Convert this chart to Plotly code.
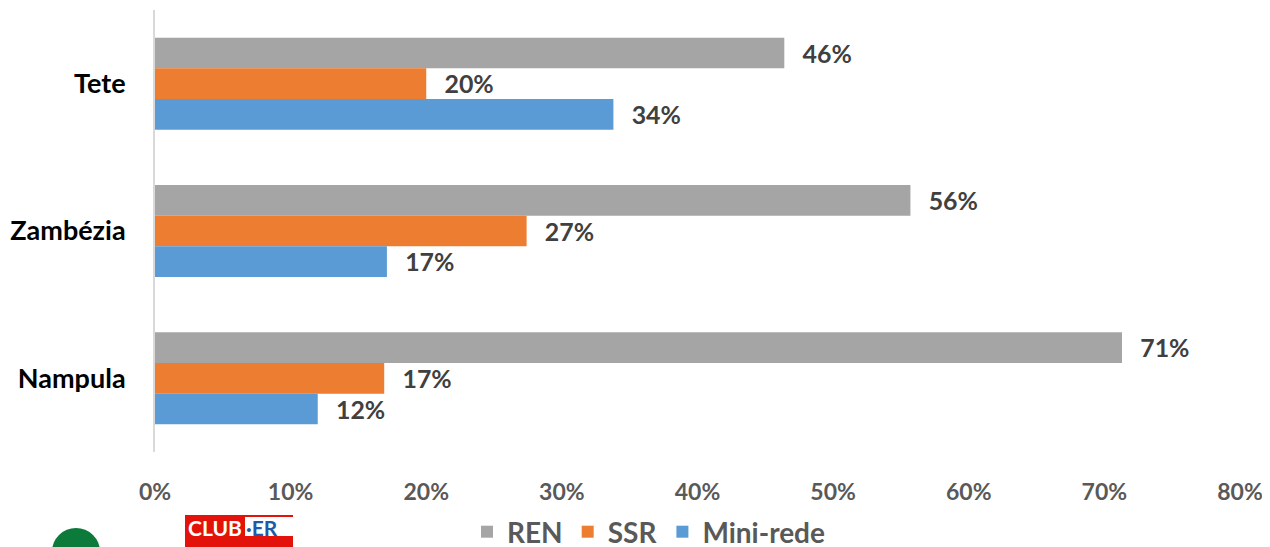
import plotly.graph_objects as go

categories = ["Tete", "Zambézia", "Nampula"]
series_names = ["REN", "SSR", "Mini-rede"]
ren = [46.4, 55.7, 71.3]
ssr = [20.0, 27.4, 16.9]
mini = [33.8, 17.1, 12.0]
colors = ["#A5A5A5", "#ED7D31", "#5B9BD5"]
x_ticks = [0, 10, 20, 30, 40, 50, 60, 70, 80]
x_tick_labels = [f"{t}%" for t in x_ticks]

FONT = "Lato, 'Open Sans', sans-serif"
PAD = "\u00a0\u00a0\u2009"

# page offset of the figure (default body margin) is 8px
PL, PB, PW, PH = 155, 452, 1085, 442  # plot area in page pixels


def px(x):
    return (x - PL) / PW


def py(y):
    return (PB - y) / PH


fig = go.Figure()
for name, vals, col in zip(series_names, [ren, ssr, mini], colors):
    fig.add_trace(go.Bar(
        y=categories, x=vals, name=name, orientation="h",
        marker=dict(color=col, line=dict(width=0)),
        text=[f"{PAD}{round(v):d}%" for v in vals],
        textposition="outside",
        textfont=dict(family=FONT, size=26, color="#404040", weight="bold"),
        cliponaxis=False,
    ))

fig.update_layout(
    width=1270, height=570,
    margin=dict(l=147, r=38, t=2, b=126),
    paper_bgcolor="white", plot_bgcolor="white",
    barmode="group", bargap=0.376, bargroupgap=0,
    font=dict(family=FONT),
    showlegend=True,
    legend=dict(
        orientation="h", x=px(649), xanchor="center", y=py(532), yanchor="middle",
        font=dict(family=FONT, size=28, color="#595959", weight="bold"),
        traceorder="normal",
    ),
    xaxis=dict(
        range=[0, 80], tickvals=x_ticks, ticktext=x_tick_labels,
        showgrid=False, zeroline=False, showline=False,
        ticks="", ticklabelstandoff=24,
        tickfont=dict(family=FONT, size=23, color="#595959", weight="bold"),
    ),
    yaxis=dict(
        autorange="reversed", showgrid=False, zeroline=False,
        showline=True, linecolor="#D9D9D9", linewidth=2,
        ticks="", ticklabelstandoff=22,
        tickfont=dict(family=FONT, size=27, color="#000000", weight="bold"),
    ),
    shapes=[
        dict(type="rect", xref="paper", yref="paper", x0=px(185), x1=px(293),
             y0=py(560), y1=py(515), fillcolor="#E3120B", line=dict(width=0), layer="above"),
        dict(type="rect", xref="paper", yref="paper", x0=px(245), x1=px(293),
             y0=py(536), y1=py(517), fillcolor="white", line=dict(width=0), layer="above"),
        dict(type="circle", xref="paper", yref="paper", x0=px(52), x1=px(100),
             y0=py(575), y1=py(528), fillcolor="#0B7A3B", line=dict(width=0), layer="above"),
    ],
    annotations=[
        dict(xref="paper", yref="paper", x=px(186), y=py(527), xanchor="left", yanchor="middle",
             text="<b>CLUB</b>", showarrow=False, font=dict(family=FONT, size=21, color="white")),
        dict(xref="paper", yref="paper", x=px(244), y=py(527), xanchor="left", yanchor="middle",
             text="<b>·ER</b>", showarrow=False, font=dict(family=FONT, size=21, color="#1F5AA6")),
    ],
)

fig.write_html("out.html")
